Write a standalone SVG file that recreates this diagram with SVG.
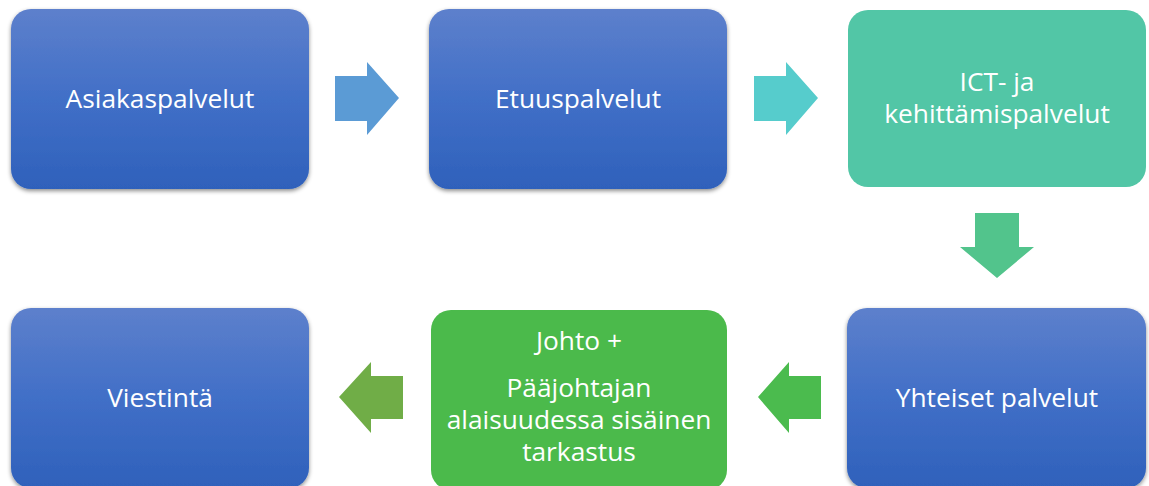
<svg xmlns="http://www.w3.org/2000/svg" width="1149" height="486" viewBox="0 0 1149 486">
<style>
.lbl{font-family:"Open Sans","Liberation Sans",sans-serif;font-size:26.3px;fill:#ffffff;text-anchor:middle}
.blue{fill:url(#gBlue);filter:url(#sh)}
</style>
<defs>
<linearGradient id="gBlue" x1="0" y1="0" x2="0" y2="1">
<stop offset="0" stop-color="#5d80cc"/>
<stop offset="0.5" stop-color="#416fc7"/>
<stop offset="1" stop-color="#2f61bb"/>
</linearGradient>
<filter id="sh" x="-10%" y="-10%" width="120%" height="125%">
<feGaussianBlur in="SourceAlpha" stdDeviation="2"/>
<feOffset dx="0" dy="2" result="b"/>
<feFlood flood-color="#000" flood-opacity="0.45"/>
<feComposite in2="b" operator="in"/>
<feMerge><feMergeNode/><feMergeNode in="SourceGraphic"/></feMerge>
</filter>
</defs>
<rect width="1149" height="486" fill="#ffffff"/>
<g id="connectors">
<polygon points="335,76 367,76 367,62 399,98 367,135 367,121 335,121" fill="#5b9bd5"/>
<polygon points="754,76 786,76 786,62 818,98 786,135 786,121 754,121" fill="#56cccc"/>
<polygon points="975,213 1019,213 1019,247 1034,247 997,278 960,247 975,247" fill="#52c48c"/>
<polygon points="821,376 789,376 789,362 758,397 789,433 789,419 821,419" fill="#4bbb4e"/>
<polygon points="403,376 371,376 371,362 339,397 371,433 371,419 403,419" fill="#70ad47"/>
</g>
<g id="n1"><rect class="blue" x="11" y="9" width="298" height="180" rx="20"/><text class="lbl" x="160" y="108">Asiakaspalvelut</text></g>
<g id="n2"><rect class="blue" x="429" y="9" width="298" height="180" rx="20"/><text class="lbl" x="578" y="108">Etuuspalvelut</text></g>
<g id="n3"><rect x="848" y="10" width="298" height="177" rx="20" fill="#52c6a6"/><text class="lbl" x="997" y="91">ICT- ja</text><text class="lbl" x="997" y="123">kehittämispalvelut</text></g>
<g id="n4"><rect class="blue" x="11" y="308" width="298" height="180" rx="20"/><text class="lbl" x="160" y="407">Viestintä</text></g>
<g id="n5"><rect x="431" y="310" width="296" height="180" rx="20" fill="#4bba4b"/><text class="lbl" x="579" y="350">Johto +</text><text class="lbl" x="579" y="397">Pääjohtajan</text><text class="lbl" x="579" y="429">alaisuudessa sisäinen</text><text class="lbl" x="579" y="461">tarkastus</text></g>
<g id="n6"><rect class="blue" x="847" y="308" width="299" height="180" rx="20"/><text class="lbl" x="997" y="407">Yhteiset palvelut</text></g>
</svg>
